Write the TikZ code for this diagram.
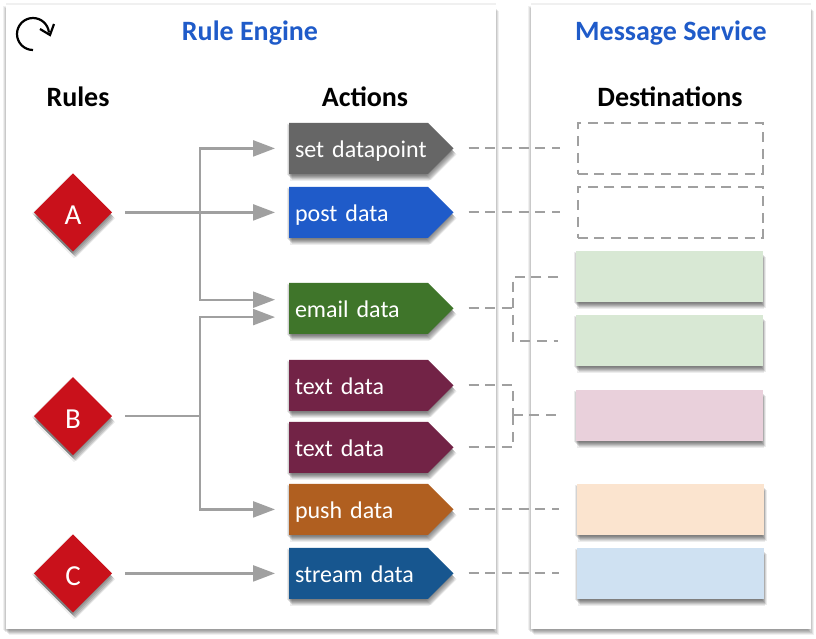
\documentclass[tikz,border=0pt]{standalone}
\usepackage{fontspec}
\setmainfont{Carlito}
\usetikzlibrary{arrows.meta}
\usetikzlibrary{positioning}
\usetikzlibrary{shapes.geometric}
\usetikzlibrary{shapes.symbols}

\definecolor{titleblue}{HTML}{1F5BC9}
\definecolor{flowgray}{HTML}{A0A0A0}
\definecolor{rulered}{HTML}{C9111B}
\definecolor{setgray}{HTML}{666666}
\definecolor{emailgreen}{HTML}{3F752A}
\definecolor{textplum}{HTML}{722346}
\definecolor{pushorange}{HTML}{B05F20}
\definecolor{streamblue}{HTML}{17568F}
\definecolor{palegreen}{HTML}{D8E8D4}
\definecolor{palepink}{HTML}{E9D0DB}
\definecolor{paleorange}{HTML}{FBE4CF}
\definecolor{paleblue}{HTML}{CFE1F2}

\tikzset{
    softlayer/.style n args={3}{preaction={fill=black, fill opacity=#3, transform canvas={xshift=#1, yshift=#2}}},
    softshadow/.style={softlayer={-2pt}{-1pt}{.08}, softlayer={-1pt}{-2pt}{.1}, softlayer={0pt}{-3pt}{.11},
        softlayer={1pt}{-4pt}{.11}, softlayer={2pt}{-5pt}{.1}, softlayer={3pt}{-6pt}{.08}, softlayer={1pt}{-7pt}{.07}},
    panelshadow/.style={softlayer={0pt}{2pt}{.06}, softlayer={-3pt}{-1pt}{.06}, softlayer={-2pt}{-2pt}{.08},
        softlayer={-1pt}{-3pt}{.09}, softlayer={1pt}{-4pt}{.09}, softlayer={2pt}{-5pt}{.08}, softlayer={3pt}{-6pt}{.06}},
    panel/.style={rectangle, fill=white, inner sep=0pt, outer sep=0pt, anchor=north west, minimum height=624pt, panelshadow},
    heading/.style={font=\fontsize{28}{30}\selectfont\bfseries},
    title/.style={heading, text=titleblue},
    rulebox/.style={diamond, fill=rulered, text=white, minimum width=78pt, minimum height=78pt, inner sep=0pt, outer sep=0pt,
        text height=24pt, text depth=0pt, font=\fontsize{29}{30}\selectfont, softshadow},
    action/.style={signal, signal to=east, signal pointer angle=90, text=white, align=left, inner xsep=6pt, inner ysep=0pt,
        outer sep=0pt, text width=127pt, text height=23pt, text depth=5pt, minimum height=51pt,
        font=\fontsize{24}{28}\selectfont, softshadow},
    dest/.style={rectangle, minimum height=51pt, inner sep=0pt, outer sep=0pt},
    filled/.style={dest, minimum width=187pt, softshadow},
    empty/.style={dest, minimum width=185pt, draw=flowgray, line width=2pt, dash pattern=on 10pt off 6.7pt},
    flow/.style={draw=flowgray, line width=2.3pt, -{Triangle[length=22pt, width=16pt]}, shorten >=14pt},
    link/.style={draw=flowgray, line width=2pt, dash pattern=on 10pt off 6.7pt, shorten >=18pt}
}

\begin{document}
\begin{tikzpicture}[x=1pt, y=-1pt]
    \useasboundingbox (0,0) rectangle (816,638);
    \fill[white] (0,0) rectangle (816,638);

    \node (engine) [panel, minimum width=489.5pt] at (6,5) {};
    \node (service) [panel, minimum width=280.5pt] at (530.5,5) {};

    \draw[line width=2.2pt] (33,50) arc[start angle=90, end angle=355, radius=16];
    \draw[line width=2.2pt] (40,29) -- (50,35) -- (54,24);

    \node (enginetitle) [title] at (250,33) {Rule Engine};
    \node (servicetitle) [title] at (671,33) {Message Service};
    \node (rules) [heading] at (78,97) {Rules};
    \node (actions) [heading] at (365,97) {Actions};
    \node (destinations) [heading] at (670,97) {Destinations};

    \node (A) [rulebox] at (73,212.4) {A};
    \node (B) [rulebox] at (73,416) {B};
    \node (C) [rulebox] at (73,573.4) {C};

    \node (setdp) [action, fill=setgray, anchor=west] at (289,148.4) {\mbox{set datapoint}};
    \node (post) [action, fill=titleblue, below=13pt of setdp] {post data};
    \node (email) [action, fill=emailgreen, below=45pt of post] {email data};
    \node (textone) [action, fill=textplum, below=26pt of email] {text data};
    \node (texttwo) [action, fill=textplum, below=11pt of textone] {text data};
    \node (push) [action, fill=pushorange, below=11pt of texttwo] {push data};
    \node (stream) [action, fill=streamblue, below=13pt of push] {stream data};

    \node (dsetdp) [empty, right=124pt of setdp] {};
    \node (dpost) [empty, right=124pt of post] {};
    \node (dgreenone) [filled, fill=palegreen] at (669.5,276.7) {};
    \node (dgreentwo) [filled, fill=palegreen, below=13pt of dgreenone] {};
    \node (dpink) [filled, fill=palepink] at (669.5,415.3) {};
    \node (dpush) [filled, fill=paleorange, right=123pt of push] {};
    \node (dstream) [filled, fill=paleblue, right=123pt of stream] {};

    \coordinate (Ajoin) at (200,212.4);
    \coordinate (Bjoin) at (200,416);
    \coordinate (emailjoin) at (512.7,308.4);
    \coordinate (textjoin) at (512.7,415.3);

    \draw[flow, shorten <=13pt] (A) -- (post.west);
    \draw[flow] (Ajoin) |- (setdp.west);
    \draw[flow] (Ajoin) |- ([yshift=8.7pt]email.west);
    \draw[flow, shorten <=13pt] (B) -- (Bjoin) |- ([yshift=-8.7pt]email.west);
    \draw[flow] (Bjoin) |- (push.west);
    \draw[flow, shorten <=13pt] (C) -- (stream.west);

    \draw[link, shorten <=15pt] (setdp.east) -- (dsetdp);
    \draw[link, shorten <=15pt] (post.east) -- (dpost);
    \draw[link, shorten <=15pt, shorten >=0pt] (email.east) -- (emailjoin);
    \draw[link, shorten <=18pt] (dgreenone) -| (emailjoin) |- (dgreentwo);
    \draw[link, shorten <=15pt, shorten >=0pt] (textone.east) -| (textjoin);
    \draw[link, shorten <=15pt, shorten >=0pt] (texttwo.east) -| (textjoin);
    \draw[link] (textjoin) -- (dpink);
    \draw[link, shorten <=15pt] (push.east) -- (dpush);
    \draw[link, shorten <=15pt] (stream.east) -- (dstream);
\end{tikzpicture}
\end{document}
